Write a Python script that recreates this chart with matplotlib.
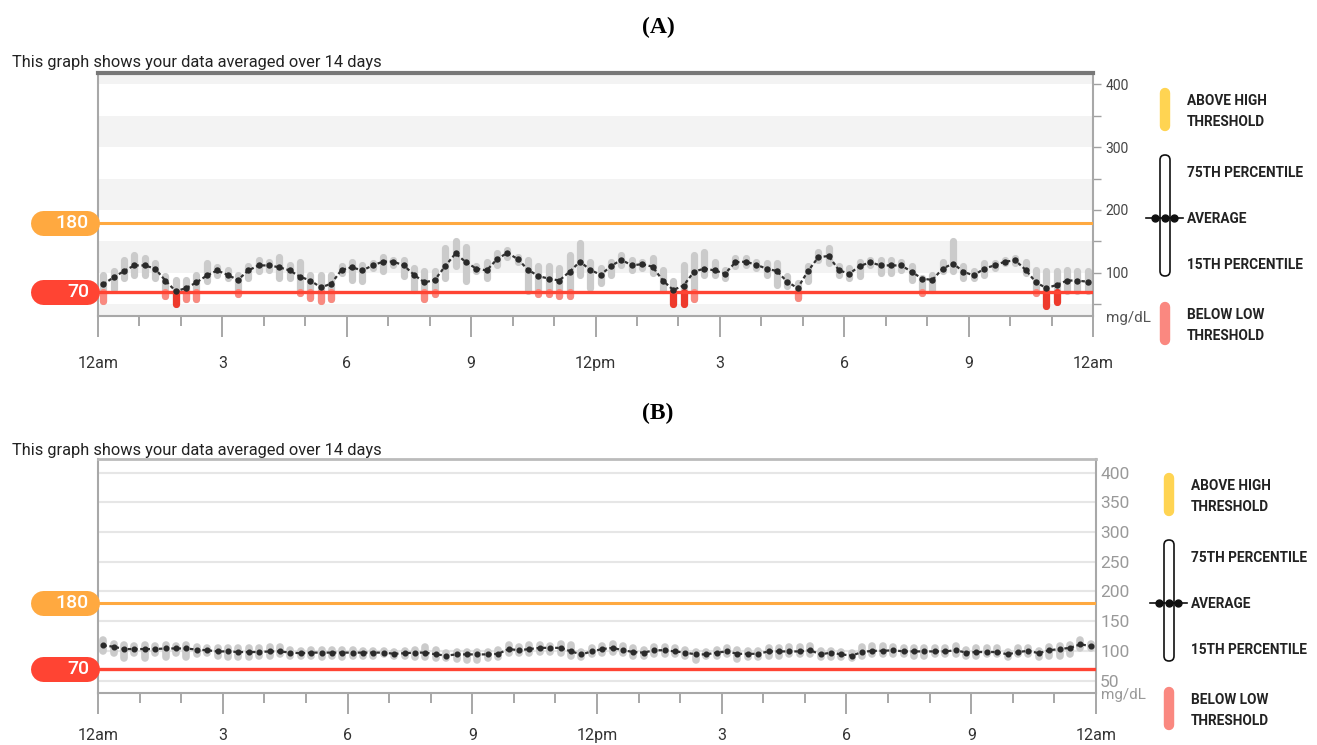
import matplotlib.pyplot as plt
import numpy as np
from matplotlib.patches import FancyBboxPatch
from matplotlib.transforms import blended_transform_factory

plt.rcParams['font.family'] = ['Roboto', 'DejaVu Sans']

W, H = 1317, 745

# 96 readings per day, one every 15 minutes
hours = (np.arange(96) + 0.5) * 0.25

low_thr = 70
high_thr = 180
xtick_pos = [0, 3, 6, 9, 12, 15, 18, 21, 24]
xtick_labels = ["12am", "3", "6", "9", "12pm", "3", "6", "9", "12am"]
subtitle = "This graph shows your data averaged over 14 days"

# panel A: average, 15th and 75th percentile (mg/dL)
avg_a = [82, 93, 103, 112, 112, 107, 88, 71, 76, 85, 96, 104,
         97, 89, 104, 112, 112, 109, 104, 94, 88, 77, 83, 105,
         109, 104, 112, 118, 118, 112, 97, 85, 89, 111, 131, 117,
         107, 104, 122, 132, 122, 105, 95, 91, 88, 102, 118, 105,
         97, 111, 121, 112, 114, 110, 88, 73, 80, 102, 107, 104,
         99, 117, 118, 113, 107, 103, 86, 76, 103, 125, 127, 104,
         99, 111, 117, 112, 112, 112, 102, 91, 89, 107, 115, 102,
         96, 107, 112, 118, 120, 105, 85, 76, 81, 88, 88, 86]
p15_a = [55, 74, 92, 97, 97, 92, 63, 51, 58, 58, 87, 97,
         92, 66, 92, 103, 105, 92, 92, 68, 60, 55, 58, 100,
         89, 87, 108, 103, 113, 95, 73, 58, 66, 92, 111, 87,
         103, 92, 113, 126, 118, 71, 66, 66, 63, 63, 97, 76,
         84, 97, 113, 105, 108, 100, 73, 50, 50, 58, 97, 97,
         92, 111, 113, 108, 97, 81, 79, 60, 87, 121, 116, 97,
         92, 95, 113, 100, 100, 105, 89, 68, 73, 103, 103, 92,
         92, 97, 108, 116, 116, 100, 68, 47, 54, 71, 71, 71]
p75_a = [97, 103, 121, 128, 124, 116, 95, 89, 89, 97, 116, 109,
         105, 97, 111, 121, 118, 125, 113, 118, 97, 97, 97, 111,
         118, 113, 116, 125, 121, 120, 108, 103, 103, 140, 150, 142,
         111, 118, 132, 137, 126, 121, 111, 111, 108, 129, 148, 118,
         108, 118, 129, 121, 118, 124, 105, 87, 113, 129, 134, 118,
         105, 124, 124, 118, 116, 116, 95, 84, 111, 134, 140, 111,
         108, 118, 121, 121, 121, 118, 111, 92, 97, 118, 150, 111,
         103, 116, 116, 121, 124, 118, 105, 103, 103, 105, 103, 103]

# panel B
avg_b = [109, 107, 103, 103, 103, 103, 104, 104, 104, 102, 101, 99,
         99, 98, 98, 98, 99, 99, 97, 96, 97, 97, 97, 97,
         97, 97, 97, 97, 95, 96, 97, 97, 94, 92, 94, 94,
         94, 94, 95, 103, 101, 103, 105, 105, 105, 99, 94, 99,
         103, 105, 101, 98, 97, 101, 101, 99, 97, 94, 94, 97,
         99, 95, 95, 95, 99, 99, 99, 99, 101, 94, 97, 94,
         92, 98, 100, 100, 101, 99, 99, 99, 99, 99, 101, 97,
         98, 98, 98, 94, 98, 100, 96, 101, 103, 105, 111, 108]
p15_b = [100, 96, 88, 96, 88, 96, 90, 96, 90, 94, 96, 92,
         90, 90, 90, 92, 92, 94, 92, 92, 92, 90, 92, 90,
         92, 92, 92, 94, 92, 92, 90, 90, 88, 88, 86, 84,
         84, 88, 90, 96, 96, 96, 98, 98, 96, 92, 90, 94,
         96, 98, 96, 92, 92, 94, 94, 94, 92, 84, 92, 92,
         94, 86, 90, 90, 92, 92, 94, 94, 94, 90, 90, 90,
         88, 92, 94, 94, 94, 94, 92, 92, 94, 94, 94, 92,
         92, 94, 94, 90, 94, 94, 90, 92, 92, 94, 104, 104]
p75_b = [118, 112, 110, 108, 110, 108, 110, 108, 110, 106, 104, 104,
         104, 104, 104, 104, 106, 106, 102, 100, 102, 102, 102, 102,
         102, 100, 100, 100, 98, 100, 102, 106, 102, 96, 98, 98,
         98, 98, 102, 110, 106, 110, 110, 108, 112, 110, 98, 104,
         108, 112, 108, 104, 102, 106, 106, 104, 102, 98, 98, 102,
         104, 102, 100, 100, 104, 104, 106, 106, 108, 100, 100, 98,
         96, 106, 108, 108, 106, 104, 104, 104, 104, 104, 108, 102,
         104, 104, 104, 98, 104, 104, 100, 106, 108, 110, 118, 112]

GRAY_BAR = "#CBCBCB"
SALMON = "#F98A80"
DEEP_RED = "#EE3A2C"
ORANGE = "#FFA940"
RED = "#FF4433"
YELLOW = "#FFD452"


def draw_panel(ax, avg, lo, hi, banded, px_w, bar_lw, dot_ms, xpad):
    avg = np.array(avg, float)
    lo = np.array(lo, float)
    hi = np.array(hi, float)

    if banded:
        for a, b in [(0, 50), (100, 150), (200, 250), (300, 350), (400, 500)]:
            ax.axhspan(a, b, color="#F3F3F3", lw=0, zorder=0)
    else:
        ax.set_axisbelow(True)
        ax.grid(axis="y", color="#E6E6E6", lw=1.5)

    ax.vlines(hours, lo, hi, colors=GRAY_BAR, lw=bar_lw, capstyle="round", zorder=2)
    below = lo < low_thr
    cols = [DEEP_RED if v <= 54 else SALMON for v in lo[below]]
    ax.vlines(hours[below], lo[below], low_thr, colors=cols, lw=bar_lw,
              capstyle="round", zorder=3)

    ax.axhline(high_thr, color=ORANGE, lw=2.2, zorder=4)
    ax.axhline(low_thr, color=RED, lw=2.4, zorder=4)

    ax.plot(hours, avg, color="#333333", lw=1.6, ls=(0, (1.6, 1.2)),
            marker="o", ms=dot_ms, mfc="#2a2a2a", mec="#2a2a2a", zorder=5)

    # threshold pills on the left of the axis
    tr = blended_transform_factory(ax.transAxes, ax.transData)
    for val, col in [(high_thr, ORANGE), (low_thr, RED)]:
        ax.plot([(43 - 98) / px_w, (87 - 98) / px_w], [val, val], color=col,
                lw=18, solid_capstyle="round", transform=tr, clip_on=False, zorder=6)
        ax.text((89 - 98) / px_w, val, str(val), transform=tr, ha="right",
                va="center", color="white", fontsize=14, fontweight="medium",
                zorder=7)

    ax.set_xlim(0, 24)
    ax.set_xticks(xtick_pos)
    ax.set_xticklabels(xtick_labels)
    ax.set_xticks(range(25), minor=True)
    ax.tick_params(axis="x", which="major", length=15, width=1.3, color="#A0A0A0",
                   pad=xpad, labelsize=11.5, labelcolor="#333333")
    ax.tick_params(axis="x", which="minor", length=7, width=1.3, color="#A0A0A0")
    for s in ["left", "right", "bottom"]:
        ax.spines[s].set_color("#A8A8A8")
        ax.spines[s].set_linewidth(1.5)
    ax.yaxis.tick_right()


fig = plt.figure(figsize=(W / 100, H / 100), dpi=100)

# ---- panel A
axA = fig.add_axes([98 / W, 1 - 316 / H, 995 / W, 243 / H])
draw_panel(axA, avg_a, p15_a, p75_a, True, 995, 5.2, 3.6, 14)
axA.set_ylim(31.7, 417.5)
axA.set_yticks(range(50, 401, 50))
axA.set_yticklabels([str(v) if v % 100 == 0 else "" for v in range(50, 401, 50)])
axA.tick_params(axis="y", length=6, width=1, color="#A0A0A0", labelsize=10,
                labelcolor="#444444", pad=3)
axA.spines["top"].set_color("#777777")
axA.spines["top"].set_linewidth(3)

# ---- panel B
axB = fig.add_axes([98 / W, 1 - 693 / H, 998 / W, 234 / H])
draw_panel(axB, avg_b, p15_b, p75_b, False, 998, 5.5, 3.4, 10)
axB.set_ylim(29, 423)
axB.set_yticks(range(50, 401, 50))
axB.tick_params(axis="y", length=0, labelsize=12.5, labelcolor="#999999", pad=3)
axB.spines["top"].set_color("#BBBBBB")
axB.spines["top"].set_linewidth(2)

# ---- overlay in pixel coordinates for titles and legends
ov = fig.add_axes([0, 0, 1, 1])
ov.set_xlim(0, W)
ov.set_ylim(H, 0)
ov.axis("off")

serif = ["Liberation Serif", "DejaVu Serif"]
for label, y in [("(A)", 27), ("(B)", 413)]:
    ov.text(658, y, label, ha="center", va="center", fontsize=17,
            fontweight="bold", family=serif)

for y in [63, 451]:
    ov.text(12, y, subtitle, ha="left", va="center", fontsize=11.8, color="#222222")

ov.text(1106, 318, "mg/dL", ha="left", va="center", fontsize=11, color="#555555")
ov.text(1101, 695, "mg/dL", ha="left", va="center", fontsize=11, color="#999999")


def legend(x_pill, x_text, y0):
    # y0 = top of the yellow pill
    kw = dict(fontsize=9.8, fontweight="bold", va="center", color="#222222")
    ov.plot([x_pill, x_pill], [y0 + 5, y0 + 38], color=YELLOW, lw=7.5,
            solid_capstyle="round")
    ov.text(x_text, y0 + 13, "ABOVE HIGH", **kw)
    ov.text(x_text, y0 + 34, "THRESHOLD", **kw)
    ov.add_patch(FancyBboxPatch((x_pill - 5, y0 + 67), 10, 121,
                                boxstyle="round,pad=0,rounding_size=5",
                                fc="white", ec="#111111", lw=1.2))
    ov.text(x_text, y0 + 85, "75TH PERCENTILE", **kw)
    ya = y0 + 130
    ov.plot([x_pill - 19, x_pill + 18], [ya, ya], color="#111111", lw=1.2)
    ov.plot([x_pill - 10, x_pill, x_pill + 9], [ya, ya, ya], "o", color="#111111",
            ms=5)
    ov.text(x_text, ya + 1, "AVERAGE", **kw)
    ov.text(x_text, y0 + 177, "15TH PERCENTILE", **kw)
    ov.plot([x_pill, x_pill], [y0 + 219, y0 + 252], color="#FA8880", lw=7.5,
            solid_capstyle="round")
    ov.text(x_text, y0 + 227, "BELOW LOW", **kw)
    ov.text(x_text, y0 + 248, "THRESHOLD", **kw)


legend(1165, 1187, 88)
legend(1169, 1191, 473)

fig.savefig("out.png", dpi=100)
